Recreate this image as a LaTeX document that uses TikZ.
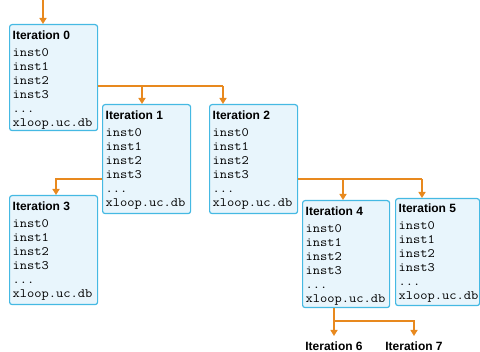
\documentclass[tikz,border=0pt]{standalone}
\usepackage{fontspec}
\setmainfont{Liberation Sans}
\newfontfamily\codefont{Latin Modern Mono}[FakeStretch=1.1]
\usetikzlibrary{arrows.meta,calc}
\definecolor{boxfill}{HTML}{E8F5FC}
\definecolor{boxline}{HTML}{45B9E3}
\definecolor{arrcol}{HTML}{E8891E}
\tikzset{
  itbox/.style={draw=boxline, fill=boxfill, line width=1.2pt, rounded corners=2.5pt, inner sep=0pt, anchor=north west},
  ittext/.style={inner sep=0pt, anchor=north west, align=left, font=\fontsize{12}{14}\selectfont},
  conn/.style={draw=arrcol, line width=1.5pt},
  arr/.style={conn, -{Triangle[width=7pt,length=6pt]}},
  lbl/.style={inner sep=0pt, anchor=north, font=\fontsize{12}{14}\selectfont\bfseries}
}
\newcommand{\cl}[1]{{\fontsize{12.8}{14}\codefont #1}}
\newcommand{\itcontent}[1]{\textbf{Iteration #1}\\[2.7pt]\cl{inst0}\\ \cl{inst1}\\ \cl{inst2}\\ \cl{inst3}\\ \cl{...}\\ \cl{xloop.uc.db}}
\begin{document}
\begin{tikzpicture}[x=1pt,y=-1pt]
\useasboundingbox (0,0) rectangle (480,352);
% boxes
\node[itbox, minimum width=88pt, minimum height=106pt] (b0) at (9,24) {};
\node[itbox, minimum width=88pt, minimum height=109pt] (b1) at (102,104) {};
\node[itbox, minimum width=88pt, minimum height=109pt] (b2) at (209,104) {};
\node[itbox, minimum width=88pt, minimum height=109pt] (b3) at (9,195) {};
\node[itbox, minimum width=87pt, minimum height=107pt] (b4) at (302,200) {};
\node[itbox, minimum width=84pt, minimum height=107pt] (b5) at (395,198) {};
% texts
\node[ittext] (t0) at ($(b0.north west)+(3.5,6.5)$) {\itcontent{0}};
\node[ittext] (t1) at ($(b1.north west)+(3.5,6.5)$) {\itcontent{1}};
\node[ittext] (t2) at ($(b2.north west)+(3.5,6.5)$) {\itcontent{2}};
\node[ittext] (t3) at ($(b3.north west)+(3.5,6.5)$) {\itcontent{3}};
\node[ittext] (t4) at ($(b4.north west)+(3.5,6.5)$) {\itcontent{4}};
\node[ittext] (t5) at ($(b5.north west)+(3.5,5.5)$) {\itcontent{5}};
% labels
\node[lbl] (l6) at (334,342) {Iteration 6};
\node[lbl] (l7) at (414,342) {Iteration 7};
% connectors
\coordinate (top) at (43,0);
\draw[arr] (top) -- (top |- b0.north);
\coordinate (s0) at ($(b0.north east)+(0,62)$);
\draw[conn] (s0) -- ($(b2.north west)+(14,-18)$);
\draw[arr] ($(b1.north west)+(40,-18)$) -- ($(b1.north west)+(40,0)$);
\draw[arr] ($(b2.north west)+(14,-18)$) -- ($(b2.north west)+(14,0)$);
\coordinate (s1) at ($(b1.north west)+(0,75)$);
\draw[arr] (s1) -| ($(b3.north west)+(47,0)$);
\coordinate (s2) at ($(b2.north east)+(0,75)$);
\draw[conn] (s2) -- ($(b5.north west)+(27,-19)$);
\draw[arr] ($(b4.north west)+(41,-21)$) -- ($(b4.north west)+(41,0)$);
\draw[arr] ($(b5.north west)+(27,-19)$) -- ($(b5.north west)+(27,0)$);
\coordinate (s4) at (l6.north |- b4.south);
\coordinate (j4) at ($(s4)+(0,13)$);
\draw[arr] (s4) -- ($(l6.north)+(0,-6)$);
\draw[arr] (j4) -| ($(l7.north)+(0,-6)$);
\end{tikzpicture}
\end{document}
